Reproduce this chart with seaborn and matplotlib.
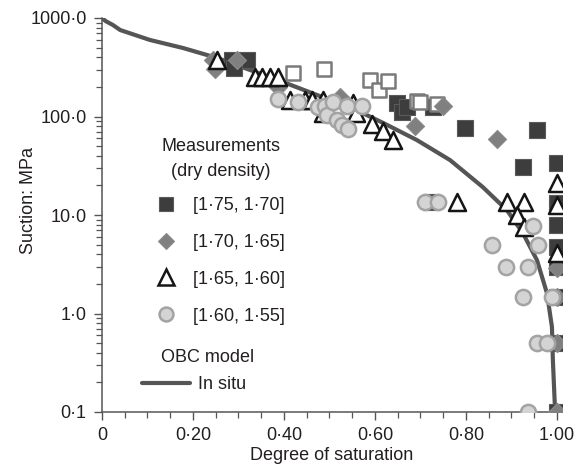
import matplotlib
matplotlib.use("Agg")
import matplotlib.pyplot as plt
import seaborn as sns
import pandas as pd
from matplotlib.lines import Line2D
from matplotlib.ticker import FixedLocator, FixedFormatter, MultipleLocator, LogLocator, NullFormatter

# ---------------- data ----------------
curve_sr = [0.0, 0.008, 0.024, 0.040, 0.105, 0.178, 0.253, 0.325, 0.398, 0.473,
            0.545, 0.618, 0.692, 0.765, 0.837, 0.890, 0.925, 0.956, 0.978,
            0.989, 0.991, 0.996]
curve_suction = [1000, 930, 849, 755, 599, 496, 393, 297, 224, 165,
                 125, 86, 57.7, 36.1, 19.2, 11.2, 6.56, 3.49, 1.61,
                 0.73, 0.34, 0.1]

sq_sr = [0.286, 0.319, 0.290, 0.648, 0.659, 0.670, 0.727, 0.798, 0.956, 0.925,
         1.0, 1.0, 1.0, 1.0, 1.0, 1.0, 1.0, 1.0, 0.723]
sq_suction = [375, 375, 310, 137, 111, 125, 125, 76, 73, 30.7,
              33.7, 13.2, 7.9, 4.7, 3.0, 1.47, 0.5, 0.1, 13.6]

dia_sr = [0.244, 0.248, 0.297, 0.387, 0.523, 0.688, 0.749, 0.868, 1.0, 1.0, 1.0, 1.0]
dia_suction = [375, 303, 375, 200, 158, 80, 128, 59, 2.9, 1.47, 0.5, 0.1]

tri_sr = [0.253, 0.336, 0.352, 0.369, 0.387, 0.413, 0.446, 0.462, 0.486, 0.486,
          0.552, 0.558, 0.593, 0.617, 0.640, 0.780, 0.890, 0.927, 0.912, 0.927,
          1.0, 1.0, 1.0]
tri_suction = [375, 252, 252, 252, 252, 147, 147, 147, 147, 109,
               137, 109, 84, 71, 58, 13.6, 13.6, 13.6, 10, 7.5,
               21, 12.6, 4.1]

cir_sr = [0.387, 0.431, 0.475, 0.490, 0.495, 0.508, 0.516, 0.527, 0.541, 0.538,
          0.571, 0.710, 0.738, 0.947, 0.857, 0.958, 0.888, 0.936, 0.925, 0.989,
          0.956, 0.978, 0.936]
cir_suction = [150, 140, 124, 128, 103, 140, 92, 82, 75, 128,
               128, 13.6, 13.6, 7.7, 5.0, 5.0, 3.0, 3.0, 1.47, 1.47,
               0.5, 0.5, 0.1]

hsq_sr = [0.420, 0.488, 0.589, 0.609, 0.629, 0.692, 0.699, 0.736]
hsq_suction = [277, 305, 235, 186, 229, 145, 140, 133]

legend_labels = ["[1·75, 1·70]", "[1·70, 1·65]", "[1·65, 1·60]", "[1·60, 1·55]"]
x_ticks = [0, 0.2, 0.4, 0.6, 0.8, 1.0]
x_tick_labels = ["0", "0·20", "0·40", "0·60", "0·80", "1·00"]
y_ticks = [0.1, 1, 10, 100, 1000]
y_tick_labels = ["0·1", "1·0", "10·0", "100·0", "1000·0"]

# ---------------- style ----------------
sns.set_theme(style="ticks")
plt.rcParams['font.family'] = ['Liberation Sans', 'DejaVu Sans']
TXT = "#231f20"
AX = "#555555"
FS = 13

W, H = 575, 467
fig = plt.figure(figsize=(W / 100, H / 100), dpi=100)
L, R, T, B = 102, 561.5, 18, 412
ax = fig.add_axes([L / W, 1 - B / H, (R - L) / W, (B - T) / H])

def axx(px):
    return (px - L) / (R - L)

def axy(py):
    return (B - py) / (B - T)

# curve
sns.lineplot(x=curve_sr, y=curve_suction, sort=False, estimator=None,
             color="#555555", lw=3, ax=ax, zorder=2)

C_SQ = "#3d3d3d"
C_DIA = "#808080"
C_CIR_F = "#d4d4d4"
C_CIR_E = "#a3a3a3"

sns.scatterplot(x=sq_sr, y=sq_suction, marker="s", s=120, color=C_SQ,
                edgecolor="#5a5a5a", linewidth=0.8, ax=ax, zorder=3)
sns.scatterplot(x=hsq_sr, y=hsq_suction, marker="s", s=110, facecolor="white",
                edgecolor="#7a7a7a", linewidth=1.8, ax=ax, zorder=3)
sns.scatterplot(x=dia_sr, y=dia_suction, marker="D", s=85, color=C_DIA,
                edgecolor="#8a8a8a", linewidth=0.8, ax=ax, zorder=4)
sns.scatterplot(x=tri_sr, y=tri_suction, marker="^", s=150, facecolor="white",
                edgecolor="#151515", linewidth=1.8, ax=ax, zorder=5)
sns.scatterplot(x=cir_sr, y=cir_suction, marker="o", s=120, facecolor=C_CIR_F,
                edgecolor=C_CIR_E, linewidth=1.8, ax=ax, zorder=6)

ax.set_yscale("log")
ax.set_xlim(0, 1.01)
ax.set_ylim(0.1, 1000)

ax.xaxis.set_major_locator(FixedLocator(x_ticks))
ax.xaxis.set_major_formatter(FixedFormatter(x_tick_labels))
ax.xaxis.set_minor_locator(MultipleLocator(0.05))
ax.yaxis.set_major_locator(FixedLocator(y_ticks))
ax.yaxis.set_major_formatter(FixedFormatter(y_tick_labels))
ax.yaxis.set_minor_locator(LogLocator(base=10, subs=range(2, 10)))
ax.yaxis.set_minor_formatter(NullFormatter())

for s in ["top", "right"]:
    ax.spines[s].set_visible(False)
for s in ["left", "bottom"]:
    ax.spines[s].set_color(AX)
    ax.spines[s].set_linewidth(1.1)

ax.tick_params(axis="both", which="major", length=6, width=1.0, color=AX,
               labelsize=FS, labelcolor=TXT, pad=5)
ax.tick_params(axis="both", which="minor", length=4, width=0.9, color=AX)

ax.set_xlabel("Degree of saturation", fontsize=FS, color=TXT)
ax.set_ylabel("Suction: MPa", fontsize=FS, color=TXT)
ax.xaxis.set_label_coords(0.5, axy(447))
ax.yaxis.set_label_coords(axx(37), axy(201))

# legend texts
ax.text(axx(221), axy(151), "Measurements", transform=ax.transAxes,
        ha="center", va="baseline", fontsize=FS, color=TXT)
ax.text(axx(221), axy(176), "(dry density)", transform=ax.transAxes,
        ha="center", va="baseline", fontsize=FS, color=TXT)
ax.text(axx(161), axy(357), "OBC model", transform=ax.transAxes,
        ha="left", va="center", fontsize=FS, color=TXT)

handles = [
    Line2D([], [], ls="", marker="s", markersize=10, mfc=C_SQ, mec="#5a5a5a", mew=0.8),
    Line2D([], [], ls="", marker="D", markersize=8.5, mfc=C_DIA, mec="#8a8a8a", mew=0.8),
    Line2D([], [], ls="", marker="^", markersize=11, mfc="white", mec="#151515", mew=1.8),
    Line2D([], [], ls="", marker="o", markersize=10, mfc=C_CIR_F, mec=C_CIR_E, mew=1.8),
]
leg1 = ax.legend(handles, legend_labels, loc="upper left",
                 bbox_to_anchor=(axx(148), axy(197)), frameon=False,
                 fontsize=FS, handlelength=2.0, handletextpad=0.5,
                 labelspacing=1.1, borderpad=0, borderaxespad=0)
for t in leg1.get_texts():
    t.set_color(TXT)
ax.add_artist(leg1)

leg2 = ax.legend([Line2D([], [], color="#555555", lw=3)], ["In situ"],
                 loc="upper left", bbox_to_anchor=(axx(142), axy(376)),
                 frameon=False, fontsize=FS, handlelength=2.67,
                 handletextpad=0.45, borderpad=0, borderaxespad=0)
for t in leg2.get_texts():
    t.set_color(TXT)

fig.savefig("out.png", dpi=100)
